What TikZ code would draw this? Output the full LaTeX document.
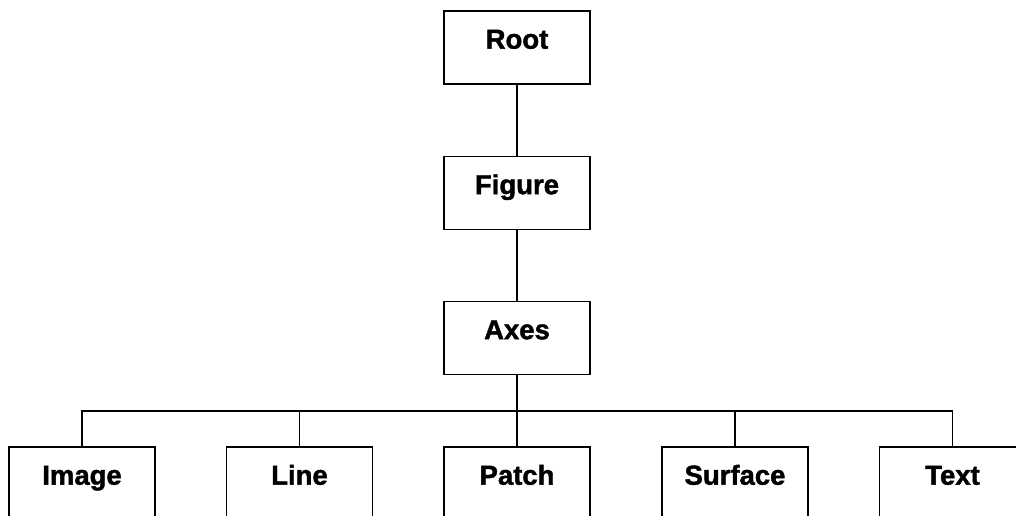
\documentclass[tikz,border=0pt]{standalone}
\usepackage{fontspec}
\setmainfont{Liberation Sans}
\newfontfamily\heavyfont{Liberation Sans Bold}[FakeBold=1.5]
\begin{document}
\begin{tikzpicture}[x=1pt,y=-1pt,
  box/.style={draw=black, line width=1.3pt, fill=white, inner sep=0pt,
    minimum width=146pt, text height=37.7pt, text depth=35.3pt,
    font=\fontsize{27.5}{30}\heavyfont},
  conn/.style={draw=black, line width=1.3pt}]
\useasboundingbox (0,0) rectangle (1016,516);
\clip (0,0) rectangle (1016,516);
\fill[white] (0,0) rectangle (1016,516);
\node[box] (root) at (517,47.5) {Root};
\node[box] (figure) at (517,193) {Figure};
\node[box] (axes) at (517,338) {Axes};
\node[box] (image) at (82,483.5) {Image};
\node[box] (line) at (299.5,483.5) {Line};
\node[box] (patch) at (517,483.5) {Patch};
\node[box] (surface) at (735,483.5) {Surface};
\node[box] (text) at (952.5,483.5) {Text};
\coordinate (bus) at (517,411);
\draw[conn] (root.south) -- (figure.north);
\draw[conn] (figure.south) -- (axes.north);
\draw[conn] (axes.south) -- (bus);
\draw[conn] (patch.north) -- (bus);
\draw[conn] (image.north) |- (bus);
\draw[conn] (line.north) |- (bus);
\draw[conn] (surface.north) |- (bus);
\draw[conn] (text.north) |- (bus);
\end{tikzpicture}
\end{document}
